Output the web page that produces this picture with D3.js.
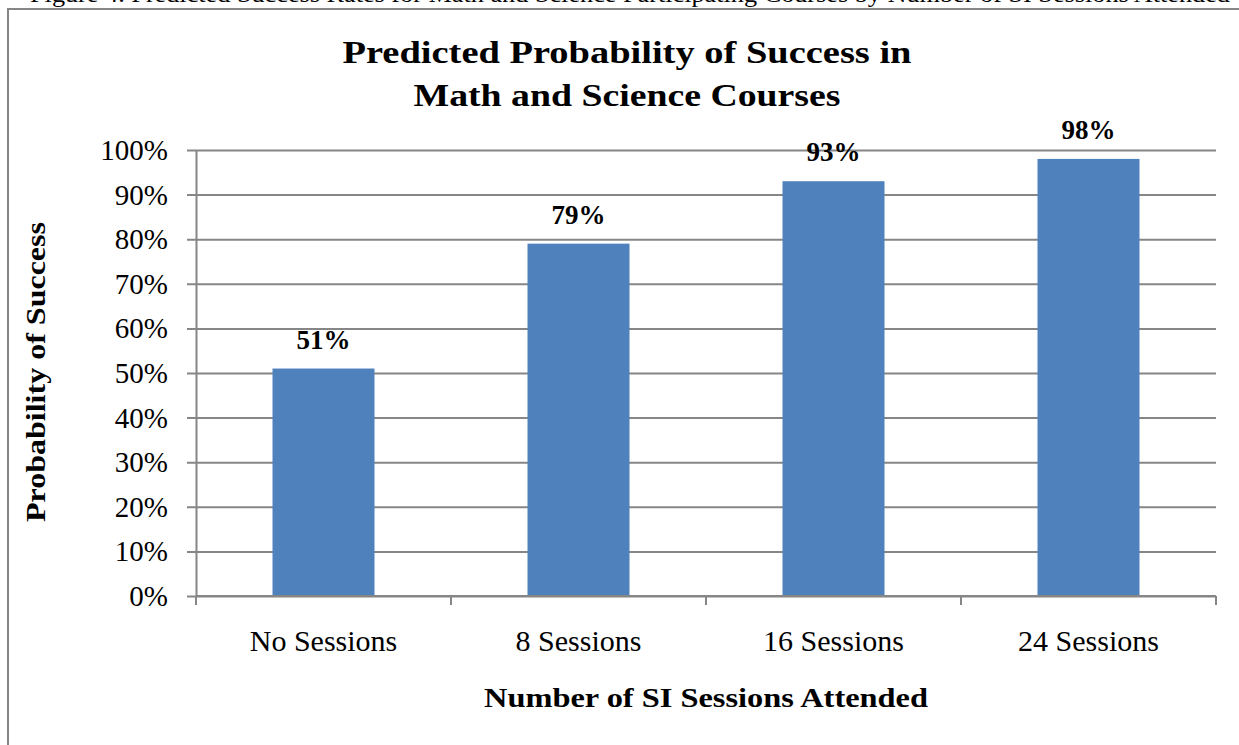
<!DOCTYPE html>
<html>
<head>
<meta charset="utf-8">
<script src="https://cdn.jsdelivr.net/npm/d3@7"></script>
<style>
  html, body { margin: 0; padding: 0; background: #fff; overflow: hidden; }
  svg { display: block; }
  text { font-family: "Liberation Serif", "Times New Roman", serif; fill: #000; }
</style>
</head>
<body>
<svg id="chart" width="1239" height="745"></svg>
<script>
// Chart data
const categories = ["No Sessions", "8 Sessions", "16 Sessions", "24 Sessions"];
const successRates = [51, 79, 93, 98];
const yTicks = [0, 10, 20, 30, 40, 50, 60, 70, 80, 90, 100];
const titleLines = ["Predicted Probability of Success in", "Math and Science Courses"];
const xTitle = "Number of SI Sessions Attended";
const yTitle = "Probability of Success";
const caption = "Figure 4. Predicted Success Rates for Math and Science Participating Courses by Number of SI Sessions Attended";

const svg = d3.select("#chart");
const W = 1239, H = 745;
const plot = { left: 196, right: 1216, top: 150, bottom: 596 };
const gridColor = "#868686";
const barColor = "#4F81BD";

// Document caption line above the chart frame (runs off the top of the page)
svg.append("text")
  .attr("x", 30).attr("y", 2)
  .attr("font-size", 24)
  .attr("textLength", 1200)
  .attr("lengthAdjust", "spacingAndGlyphs")
  .text(caption);

// Chart frame
svg.append("rect")
  .attr("x", 8).attr("y", 9)
  .attr("width", W + 20).attr("height", H + 20)
  .attr("fill", "#fff")
  .attr("stroke", gridColor).attr("stroke-width", 2);

const x = d3.scaleBand()
  .domain(categories)
  .range([plot.left, plot.right])
  .paddingInner(0.6)
  .paddingOuter(0.3);

const y = d3.scaleLinear()
  .domain([0, 100])
  .range([plot.bottom, plot.top]);

// Horizontal gridlines with outward ticks
const yAxis = d3.axisLeft(y)
  .tickValues(yTicks)
  .tickSize(-(plot.right - plot.left))
  .tickSizeOuter(0)
  .tickPadding(0)
  .tickFormat(d => d + "%");

const gy = svg.append("g")
  .attr("transform", `translate(${plot.left},0)`)
  .call(yAxis);
gy.select(".domain").attr("stroke", gridColor).attr("stroke-width", 2);
gy.selectAll(".tick line")
  .attr("x1", -9)
  .attr("stroke", gridColor).attr("stroke-width", 2);
gy.selectAll(".tick text")
  .attr("x", -28)
  .attr("dy", "0.33em")
  .attr("font-size", 29)
  .attr("font-family", "Liberation Serif, serif")
  .attr("fill", "#000");

// Bars
svg.append("g").selectAll("rect")
  .data(categories)
  .join("rect")
  .attr("x", d => x(d))
  .attr("width", x.bandwidth())
  .attr("y", (d, i) => y(successRates[i]))
  .attr("height", (d, i) => y(0) - y(successRates[i]))
  .attr("fill", barColor);

// Value labels
svg.append("g").selectAll("text")
  .data(categories)
  .join("text")
  .attr("x", d => x(d) + x.bandwidth() / 2)
  .attr("y", (d, i) => y(successRates[i]) - 20)
  .attr("text-anchor", "middle")
  .attr("font-size", 27)
  .attr("font-weight", "bold")
  .text((d, i) => successRates[i] + "%");

// Category axis with boundary ticks
const step = x.step();
const boundaries = d3.range(categories.length + 1).map(i => plot.left + i * step);
svg.append("line")
  .attr("x1", plot.left).attr("x2", plot.right)
  .attr("y1", y(0)).attr("y2", y(0))
  .attr("stroke", gridColor).attr("stroke-width", 2);
svg.append("g").selectAll("line")
  .data(boundaries)
  .join("line")
  .attr("x1", d => d).attr("x2", d => d)
  .attr("y1", y(0)).attr("y2", y(0) + 9)
  .attr("stroke", gridColor).attr("stroke-width", 2);

svg.append("g").selectAll("text")
  .data(categories)
  .join("text")
  .attr("x", d => x(d) + x.bandwidth() / 2)
  .attr("y", 651)
  .attr("text-anchor", "middle")
  .attr("font-size", 30)
  .text(d => d);

// Titles (stretched to the width of the original wide serif face)
const titleWidths = [569, 427];
svg.append("g").selectAll("text")
  .data(titleLines)
  .join("text")
  .attr("x", 627)
  .attr("y", (d, i) => 63 + i * 43)
  .attr("text-anchor", "middle")
  .attr("font-size", 32)
  .attr("font-weight", "bold")
  .attr("textLength", (d, i) => titleWidths[i])
  .attr("lengthAdjust", "spacingAndGlyphs")
  .text(d => d);

svg.append("text")
  .attr("x", 706).attr("y", 707)
  .attr("text-anchor", "middle")
  .attr("font-size", 28)
  .attr("font-weight", "bold")
  .attr("textLength", 444)
  .attr("lengthAdjust", "spacingAndGlyphs")
  .text(xTitle);

svg.append("text")
  .attr("transform", "translate(45,372) rotate(-90)")
  .attr("text-anchor", "middle")
  .attr("font-size", 27)
  .attr("font-weight", "bold")
  .attr("textLength", 300)
  .attr("lengthAdjust", "spacingAndGlyphs")
  .text(yTitle);
</script>
</body>
</html>
